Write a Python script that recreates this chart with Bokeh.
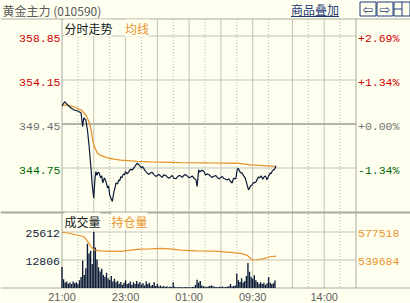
from bokeh.plotting import figure
from bokeh.models import Range1d, ColumnDataSource, Label
from bokeh.core.properties import value
from bokeh.embed import file_html
from bokeh.resources import INLINE

# ---------------- data ----------------
title_text = "黄金主力 (010590)"
link_text = "商品叠加"
panel1_titles = ["分时走势", "均线"]
panel2_titles = ["成交量", "持仓量"]
prev_close = 349.45
price_step = 4.70
sessions = [("21:00", "02:30"), ("09:00", "10:15"), ("10:30", "11:30"), ("13:30", "15:00")]
time_labels = ["21:00", "23:00", "01:00", "09:30", "14:00"]

# price: trading-minute index since 21:00, last price
price_min = [0, 5, 9, 17, 23, 30, 36, 39, 41, 45,
             48, 51, 55, 57, 60, 62, 64, 66, 68, 70,
             73, 75, 77, 80, 83, 86, 88, 90, 95, 98,
             100, 102, 105, 107, 109, 111, 113, 116, 118, 120,
             123, 126, 129, 133, 137, 142, 145, 147, 150, 152,
             156, 158, 161, 164, 167, 170, 174, 177, 180, 183,
             186, 189, 192, 196, 199, 202, 205, 208, 211, 215,
             218, 221, 224, 227, 230, 233, 236, 240, 243, 246,
             249, 253, 255, 258, 260, 262, 265, 268, 271, 274,
             277, 280, 283, 286, 290, 293, 296, 299, 302, 305,
             309, 312, 315, 318, 321, 324, 328, 331, 333, 335,
             337, 340, 343, 346, 349, 352, 354, 356, 359, 361,
             363, 366, 368, 371, 373, 376, 379, 381, 384, 387,
             390, 393, 395, 397, 399, 401, 404]
price_val = [351.37, 351.83, 351.58, 351.16, 350.94, 350.84, 350.62, 349.16, 350.09, 349.88,
             348.81, 347.21, 344.55, 342.95, 341.53, 343.48, 344.37, 343.98, 344.30, 344.23,
             343.70, 343.91, 343.16, 343.70, 343.30, 342.63, 342.84, 341.88, 341.17, 342.20,
             342.63, 343.16, 343.05, 343.48, 343.37, 343.83, 343.70, 344.12, 344.01, 344.37,
             344.12, 344.33, 344.60, 344.55, 344.87, 345.26, 345.10, 344.98, 344.75, 344.90,
             344.55, 344.40, 344.20, 344.05, 344.23, 344.30, 344.01, 343.85, 343.96, 344.05,
             343.91, 343.75, 344.01, 343.95, 343.77, 343.65, 343.80, 343.95, 343.66, 343.60,
             343.80, 343.95, 343.91, 343.75, 343.96, 344.05, 343.91, 343.70, 343.80, 343.90,
             343.66, 343.48, 342.77, 344.55, 344.30, 344.44, 344.50, 344.37, 344.00, 344.12,
             344.05, 343.91, 343.75, 343.85, 343.95, 343.77, 343.60, 343.69, 343.85, 343.66,
             343.55, 343.48, 343.60, 343.30, 343.15, 343.66, 343.59, 344.62, 344.70, 344.44,
             344.25, 344.20, 343.91, 343.66, 343.06, 342.42, 342.60, 342.84, 342.95, 343.20,
             343.16, 343.25, 343.48, 343.80, 343.69, 343.91, 343.55, 343.77, 343.91, 343.48,
             343.91, 344.20, 344.15, 344.44, 344.55, 344.60, 344.97]
assert len(price_min) == len(price_val)

# average price line
avg_min = [0, 13, 23, 36, 45, 51, 55, 58, 61, 67, 73, 80, 88, 98, 111, 124, 142, 167, 224, 280, 331, 356, 404]
avg_val = [351.5, 351.42, 351.29, 350.94, 350.41, 349.70, 348.81, 347.74, 347.03, 346.33,
           346.09, 345.96, 345.79, 345.69, 345.59, 345.54, 345.45, 345.40, 345.33, 345.29,
           345.26, 345.08, 344.92]

# volume, one value per 3 trading minutes
vol_step = 3
vol_val = [9600, 4000, 2500, 3000, 2000, 2500, 1800, 3000, 2200, 2600,
           1800, 3500, 5000, 12600, 6000, 9000, 20200, 15800, 17000, 11000,
           25612, 18500, 13000, 9500, 7500, 8800, 6000, 5200, 7000, 4500,
           3800, 5500, 3000, 4200, 2600, 3200, 2000, 2800, 1500, 2400,
           3500, 1800, 2200, 3000, 1500, 2600, 1800, 3200, 2000, 2800,
           1600, 2200, 1200, 3000, 1800, 2400, 1000, 1400, 2600, 900,
           1800, 700, 1200, 600, 900, 500, 800, 400, 700, 500,
           2600, 600, 400, 300, 500, 300, 400, 300, 500, 300,
           400, 300, 500, 600, 1500, 3800, 2500, 3200, 1200, 800,
           600, 500, 700, 900, 1200, 800, 600, 500, 400, 600,
           500, 700, 400, 500, 600, 800, 1800, 700, 900, 1200,
           6600, 3500, 2800, 4500, 2500, 3200, 5500, 11400, 7400, 5000,
           4200, 5800, 3500, 2800, 2000, 2600, 1800, 2400, 1500, 2200,
           5000, 2500, 1800, 2200, 3400]

# open interest
oi_min = [0, 11, 30, 42, 49, 55, 61, 73, 92, 111, 130, 149, 167, 186, 205, 224, 255, 287, 318, 337,
          349, 356, 359, 368, 381, 393, 404]
oi_val = [577518, 576180, 573100, 570830, 564150, 557460, 553050, 552120, 551310, 551310,
          553050, 554390, 554800, 555320, 554800, 553050, 552120, 551700, 549980, 548640,
          546370, 541950, 539684, 540000, 541500, 544090, 545030]

# ---------------- helpers ----------------
def tday(t):
    h, m = map(int, t.split(":"))
    return (h * 60 + m - 21 * 60) % 1440

def to_idx(t):
    x = tday(t)
    acc = 0
    for s, e in sessions:
        a, b = tday(s), tday(e)
        if a <= x <= b:
            return acc + x - a
        acc += b - a
    return None

TOTAL = sum(tday(e) - tday(s) for s, e in sessions)

# ---------------- layout (pixels) ----------------
W, H = 410, 303
L, R = 61.5, 355.5
T, SPLIT, B = 18.5, 212.0, 287.5
PREV_Y = 123.5
STEP_PX = 44.0
VSTEP_PX = 28.0

ppm = (R - L) / TOTAL
ppy = STEP_PX / price_step
vmax = max(vol_val)
vhalf = vmax / 2
vpy = VSTEP_PX / vhalf
oimax, oimin = max(oi_val), min(oi_val)
OIMIN_Y = B - VSTEP_PX
opy = VSTEP_PX / (oimax - oimin)

def xa(px):
    return (px - L) / ppm

def ya(py):
    return prev_close + (PREV_Y - py) / ppy

def va(py):
    return (B - py) / vpy

def oa(py):
    return oimin + (OIMIN_Y - py) / opy

BG = "#fffff0"
FRAME = "#a9a9a0"
GRID = "#c2c2b6"
DOT = "#b2b2a6"
NAVY = "#0c1c38"
ORANGE = "#e8942c"
RED = "#cc0000"
GREEN = "#006600"
GRAY = "#707070"
LINK = "#1f3b7a"

p = figure(width=W, height=H,
           x_range=Range1d(xa(0), xa(W)), y_range=Range1d(ya(H), ya(0)),
           x_axis_location=None, y_axis_location=None,
           toolbar_location=None, output_backend="svg",
           min_border=0, background_fill_color=BG, border_fill_color=BG,
           outline_line_color=None)
p.extra_y_ranges = {"vol": Range1d(va(H), va(0)), "oi": Range1d(oa(H), oa(0))}
p.grid.visible = False

# ---- vertical grid lines ----
gpos = []
for s, e in sessions:
    a, b = tday(s), tday(e)
    for t in range(30, 1440, 30):
        if a < t <= b:
            idx = to_idx(s) + t - a
            if idx < TOTAL and idx not in gpos:
                gpos.append(idx)
gpos.sort()
solid_x = [g for i, g in enumerate(gpos) if i % 2 == 1]
dot_x = [g for i, g in enumerate(gpos) if i % 2 == 0]
p.segment(x0=solid_x, x1=solid_x, y0=[ya(T)] * len(solid_x), y1=[ya(B)] * len(solid_x),
          line_color=GRID, line_width=1)
p.segment(x0=dot_x, x1=dot_x, y0=[ya(T)] * len(dot_x), y1=[ya(B)] * len(dot_x),
          line_color=DOT, line_width=1, line_dash="1 2")

# ---- horizontal grid lines ----
plevels = [prev_close + 2 * price_step, prev_close + price_step, prev_close, prev_close - price_step]
others = [v for v in plevels if v != prev_close]
p.segment(x0=[0] * len(others), x1=[TOTAL] * len(others), y0=others, y1=others,
          line_color=GRID, line_width=1)
p.segment(x0=[0], x1=[TOTAL], y0=[prev_close], y1=[prev_close], line_color="#b4b4aa", line_width=2)
p.segment(x0=[0, 0], x1=[TOTAL, TOTAL], y0=[vhalf, vmax], y1=[vhalf, vmax],
          line_color=GRID, line_width=1, y_range_name="vol")

# ---- frame ----
p.segment(x0=[xa(0)] * 3, x1=[xa(W)] * 3, y0=[ya(T), ya(SPLIT), ya(B)], y1=[ya(T), ya(SPLIT), ya(B)],
          line_color=FRAME, line_width=[1, 2, 1])
p.segment(x0=[0, TOTAL], x1=[0, TOTAL], y0=[ya(T)] * 2, y1=[ya(B)] * 2, line_color=FRAME, line_width=1)

# ---- volume & open interest ----
vol_min = [i * vol_step for i in range(len(vol_val))]
p.vbar(x=vol_min, top=vol_val, bottom=0, width=2.6, fill_color=NAVY, line_color=None,
       y_range_name="vol")
p.line(oi_min, oi_val, line_color=ORANGE, line_width=1.2, y_range_name="oi")

# ---- price & average ----
p.line(avg_min, avg_val, line_color=ORANGE, line_width=1.3)
p.line(price_min, price_val, line_color=NAVY, line_width=1.2)

# ---- tick labels ----
pcolors = [RED, RED, GRAY, GREEN]
off = 2.5 / ppy
left_src = ColumnDataSource(dict(
    x=[xa(60)] * 4, y=[v - off for v in plevels],
    text=["%.2f" % v for v in plevels], color=pcolors))
p.text(x="x", y="y", text="text", text_color="color", source=left_src,
       text_font=value("Liberation Mono"), text_font_size="11.5px",
       text_align="right", text_baseline="middle")
pct = []
for v in plevels:
    q = (v / prev_close - 1) * 100
    pct.append(("+" if q >= 0 else "-") + "%.2f%%" % abs(q))
right_src = ColumnDataSource(dict(
    x=[xa(357.5)] * 4, y=[v - off for v in plevels], text=pct, color=pcolors))
p.text(x="x", y="y", text="text", text_color="color", source=right_src,
       text_font=value("Liberation Mono"), text_font_size="11.5px",
       text_align="left", text_baseline="middle")

voff = 1.5 / vpy
p.text(x=[xa(59.5)] * 2, y=[vmax - voff, vhalf - voff], text=["%d" % vmax, "%d" % vhalf],
       text_color=NAVY, text_font=value("Liberation Mono"), text_font_size="11.5px",
       text_align="right", text_baseline="middle", y_range_name="vol")
ooff = 1.5 / opy
p.text(x=[xa(357.5)] * 2, y=[oimax - ooff, oimin - ooff], text=["%d" % oimax, "%d" % oimin],
       text_color=ORANGE, text_font=value("Liberation Mono"), text_font_size="11.5px",
       text_align="left", text_baseline="middle", y_range_name="oi")

p.text(x=[to_idx(t) for t in time_labels], y=[ya(296.5)] * len(time_labels), text=time_labels,
       text_color="#606060", text_font=value("Liberation Sans"), text_font_size="11px",
       text_align="center", text_baseline="middle")

# ---- titles ----
def lab(txt, px, py, color, size="12px", bg=None):
    kw = dict(x=xa(px), y=ya(py), text=txt, text_color=color, text_font="Noto Sans CJK SC",
              text_font_size=size, text_align="left", text_baseline="middle")
    if bg:
        kw["background_fill_color"] = bg
    p.add_layout(Label(**kw))

lab(title_text, 2, 9.5, "#585858")
lab(link_text, 290.5, 9, LINK)
p.segment(x0=[xa(290.5)], x1=[xa(338.5)], y0=[ya(16)], y1=[ya(16)], line_color=LINK, line_width=1)
lab(panel1_titles[0], 64, 27.5, "#101820", bg=BG)
lab(panel1_titles[1], 124.5, 27.5, ORANGE, bg=BG)
lab(panel2_titles[0], 64, 220.5, "#101820", bg=BG)
lab(panel2_titles[1], 111, 220.5, ORANGE, bg=BG)

# ---- icons ----
bx = [(359.5, 375.5), (376.5, 392.5), (393.5, 409.5)]
p.quad(left=[xa(a) for a, b in bx], right=[xa(b) for a, b in bx],
       top=[ya(1.5)] * 3, bottom=[ya(15.5)] * 3, fill_alpha=0, line_color=LINK, line_width=1)
p.text(x=[xa(367.5), xa(384.5)], y=[ya(8.5)] * 2, text=["⇦", "⇨"], text_color=LINK,
       text_font=value("DejaVu Sans"), text_font_size="13px", text_align="center", text_baseline="middle")
p.segment(x0=[xa(401.5), xa(393.5)], x1=[xa(401.5), xa(401.5)], y0=[ya(1.5), ya(8.5)],
          y1=[ya(15.5), ya(8.5)], line_color=LINK, line_width=1)

open("out.html", "w").write(file_html(p, INLINE))
